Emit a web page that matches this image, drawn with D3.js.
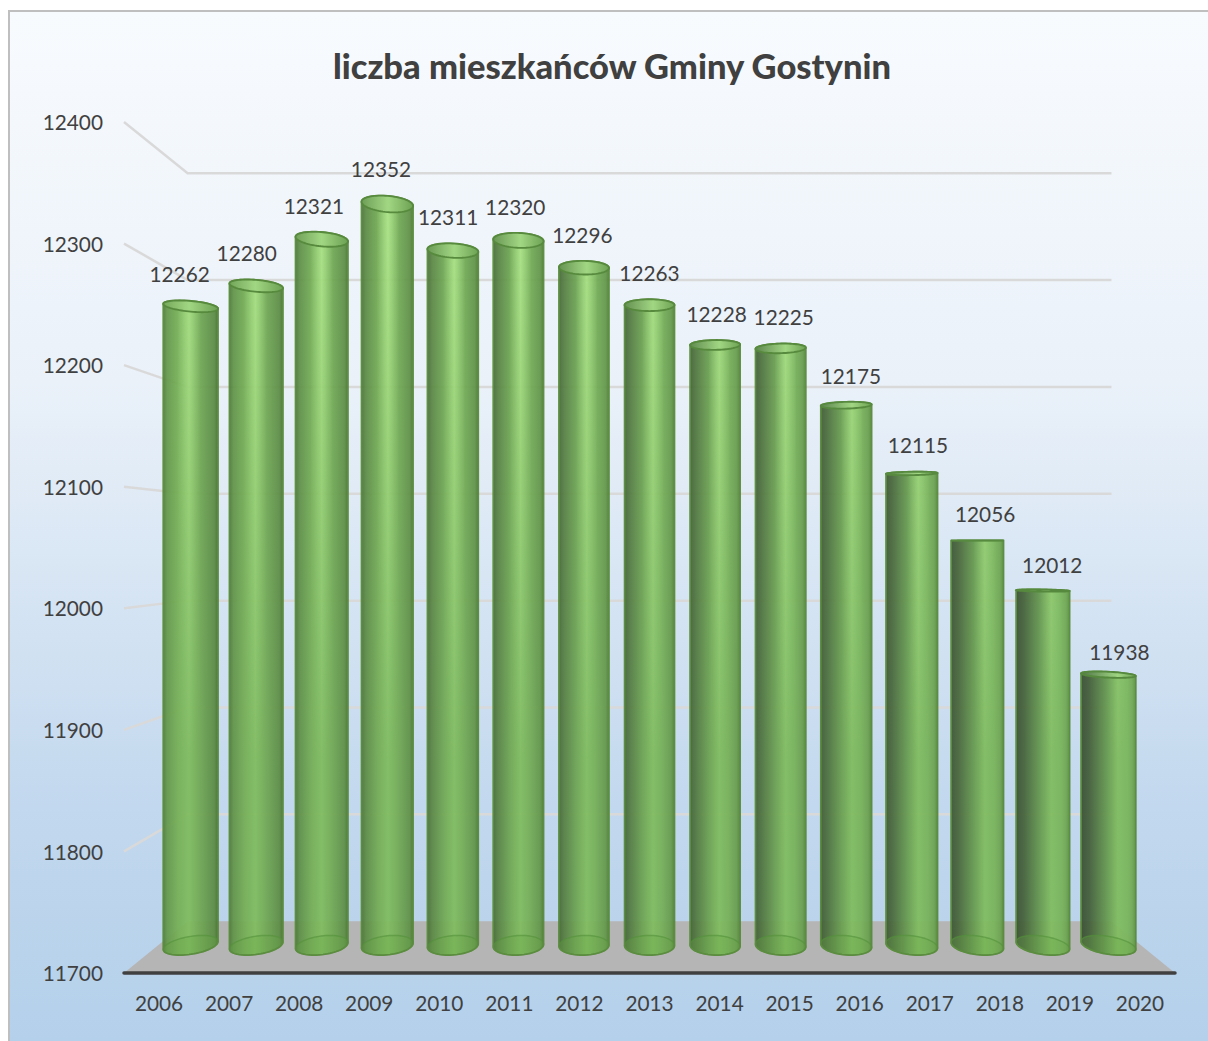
<!DOCTYPE html>
<html>
<head>
<meta charset="utf-8">
<title>liczba mieszkańców Gminy Gostynin</title>
<script src="https://cdn.jsdelivr.net/npm/d3@7"></script>
<style>
  html, body { margin: 0; padding: 0; background: #fff; }
  svg { display: block; }
  text { font-family: Lato, "Open Sans", sans-serif; fill: #404040; }
</style>
</head>
<body>
<div id="chart"></div>
<script>
var years = ["2006","2007","2008","2009","2010","2011","2012","2013","2014","2015","2016","2017","2018","2019","2020"];
var residents = [12262,12280,12321,12352,12311,12320,12296,12263,12228,12225,12175,12115,12056,12012,11938];
var yTicks = [11700,11800,11900,12000,12100,12200,12300,12400];
var chartTitle = "liczba mieszkańców Gminy Gostynin";

var width = 1208, height = 1041;

var svg = d3.select("#chart").append("svg").attr("width", width).attr("height", height);
var defs = svg.append("defs");

// front plane of the 3D box, everything else is pushed back towards the vanishing point
var x = d3.scaleBand().domain(years).range([124, 1175]);
var y = d3.scaleLinear().domain([11700, 12400]).range([973, 122]);
var depth = d3.scaleLinear().domain([0, 1]).range([1, 0.879]);
var vanish = {x: 650, y: 545};

function project(px, py, d) {
    var s = depth(d);
    return [vanish.x + (px - vanish.x) * s, vanish.y + (py - vanish.y) * s];
}

// background
var bg = defs.append("linearGradient").attr("id", "bg").attr("x1", 0).attr("y1", 0).attr("x2", 0).attr("y2", 1);
bg.append("stop").attr("offset", 0).attr("stop-color", "#f8fbfe");
bg.append("stop").attr("offset", 0.35).attr("stop-color", "#eaf1f9");
bg.append("stop").attr("offset", 0.75).attr("stop-color", "#c2d8ee");
bg.append("stop").attr("offset", 1).attr("stop-color", "#b2cfea");

svg.append("rect")
    .attr("x", 9).attr("y", 11).attr("width", width + 20).attr("height", height + 20)
    .attr("fill", "url(#bg)").attr("stroke", "#bfbfbf").attr("stroke-width", 2);

// title
svg.append("text")
    .attr("x", 612).attr("y", 79)
    .attr("text-anchor", "middle")
    .attr("font-size", 34.6).attr("font-weight", 900)
    .attr("textLength", 558).attr("lengthAdjust", "spacingAndGlyphs")
    .text(chartTitle);

// floor
var lineGen = d3.line();
var left = x.range()[0], right = x.range()[1];
svg.append("path")
    .attr("d", lineGen([project(left, y(11700), 0), project(right, y(11700), 0), project(right, y(11700), 1), project(left, y(11700), 1)]) + "Z")
    .attr("fill", "#b5b5b5");

// gridlines, side wall then back wall
svg.append("g").selectAll("path")
    .data(yTicks.filter(function(t) { return t > 11700; }))
    .enter().append("path")
    .attr("d", function(t) {
        return lineGen([project(left, y(t), 0), project(left, y(t), 1), project(right, y(t), 1)]);
    })
    .attr("fill", "none")
    .attr("stroke", "#d9d9d9")
    .attr("stroke-width", 2.5)
    .attr("stroke-linejoin", "round");

// front edge
svg.append("line")
    .attr("x1", left).attr("x2", right)
    .attr("y1", y(11700)).attr("y2", y(11700))
    .attr("stroke", "#404040").attr("stroke-width", 3.5).attr("stroke-linecap", "round");

// cylinders
var barRadius = 26.7, barDepth = 0.536, barDepthRadius = 0.19;

function ring(i, value) {
    var px = x(years[i]) + x.bandwidth() / 2;
    return d3.range(0, 72).map(function(k) {
        var a = k / 72 * 2 * Math.PI;
        return project(px + barRadius * Math.cos(a), y(value), barDepth + barDepthRadius * Math.sin(a));
    });
}

// light sits left of the last bar, so dark side gets wider to the right
years.forEach(function(yr, i) {
    var t = i / (years.length - 1);
    var hi = 0.47 + 0.2 * t;

    var g = defs.append("linearGradient").attr("id", "body" + i).attr("x1", 0).attr("x2", 1).attr("y1", 0).attr("y2", 0);
    var stops = [
        [0, d3.interpolateRgb("#527f3e", "#3a4f33")(t)],
        [0.07 + 0.08 * t, d3.interpolateRgb("#65994b", "#445f3a")(t)],
        [hi - 0.2, d3.interpolateRgb("#76b057", "#66994f")(t)],
        [hi, "#80bd5f"],
        [hi + 0.18, d3.interpolateRgb("#72aa55", "#7ab65c")(t)],
        [0.93, d3.interpolateRgb("#5c8c46", "#72aa55")(t)],
        [1, d3.interpolateRgb("#47722f", "#5d9343")(t)]
    ];
    stops.forEach(function(s) { g.append("stop").attr("offset", s[0]).attr("stop-color", s[1]); });

    var shine = defs.append("linearGradient").attr("id", "shine" + i).attr("x1", 0).attr("x2", 1).attr("y1", 0).attr("y2", 0);
    shine.append("stop").attr("offset", hi - 0.22).attr("stop-color", "#c8ffa0").attr("stop-opacity", 0);
    shine.append("stop").attr("offset", hi).attr("stop-color", "#c8ffa0").attr("stop-opacity", 0.6);
    shine.append("stop").attr("offset", hi + 0.22).attr("stop-color", "#c8ffa0").attr("stop-opacity", 0);

    var lid = defs.append("linearGradient").attr("id", "lid" + i).attr("x1", 0).attr("x2", 1).attr("y1", 0).attr("y2", 0);
    lid.append("stop").attr("offset", 0).attr("stop-color", d3.interpolateRgb("#6fa552", "#4a7040")(t));
    lid.append("stop").attr("offset", hi).attr("stop-color", "#9dd57c");
    lid.append("stop").attr("offset", 1).attr("stop-color", d3.interpolateRgb("#659c4a", "#689f4c")(t));
});

// the shine only shows on the upper part of the picture
var fade = defs.append("linearGradient").attr("id", "fade")
    .attr("gradientUnits", "userSpaceOnUse").attr("x1", 0).attr("x2", 0).attr("y1", 190).attr("y2", 760);
fade.append("stop").attr("offset", 0).attr("stop-color", "#fff");
fade.append("stop").attr("offset", 1).attr("stop-color", "#000");
defs.append("mask").attr("id", "fadeMask")
    .attr("maskUnits", "userSpaceOnUse")
    .attr("x", 0).attr("y", 0).attr("width", width).attr("height", height)
    .append("rect").attr("width", width).attr("height", height).attr("fill", "url(#fade)");

var bars = svg.append("g").selectAll("g")
    .data(residents)
    .enter().append("g")
    .attr("opacity", 0.94);

bars.each(function(v, i) {
    var bar = d3.select(this);
    var top = ring(i, v), bottom = ring(i, 11700);
    var hull = "M" + d3.polygonHull(top.concat(bottom)).join("L") + "Z";
    bar.append("path").attr("d", hull).attr("fill", "url(#body" + i + ")");
    bar.append("path").attr("d", hull).attr("fill", "url(#shine" + i + ")").attr("mask", "url(#fadeMask)");
    bar.append("path").attr("d", lineGen(bottom) + "Z")
        .attr("fill", "#62a53f").attr("fill-opacity", 0.3)
        .attr("stroke", "#4f8f33").attr("stroke-opacity", 0.6).attr("stroke-width", 1.4);
    bar.append("path").attr("d", hull)
        .attr("fill", "none").attr("stroke", "#568a38").attr("stroke-width", 1.7);
    bar.append("path").attr("d", lineGen(top) + "Z")
        .attr("fill", "url(#lid" + i + ")")
        .attr("stroke", "#4f8433").attr("stroke-width", 1.9);
});

// value labels float just in front of the cylinders
svg.append("g").selectAll("text")
    .data(residents)
    .enter().append("text")
    .attr("transform", function(v, i) {
        var p = project(x(years[i]) + x.bandwidth() / 2, y(v), 0.347);
        return "translate(" + p[0] + "," + (p[1] - 25.5) + ")";
    })
    .attr("text-anchor", "middle")
    .attr("dy", "0.35em")
    .attr("font-size", 20.8)
    .text(function(v) { return v; });

// axes
var yAxis = svg.append("g")
    .attr("transform", "translate(103,1)")
    .call(d3.axisLeft(y).tickValues(yTicks).tickSize(0).tickPadding(0).tickFormat(d3.format("d")));
var xAxis = svg.append("g")
    .attr("transform", "translate(0,996)")
    .call(d3.axisBottom(x).tickSize(0).tickPadding(0));

[yAxis, xAxis].forEach(function(a) {
    a.select(".domain").remove();
    a.selectAll("text")
        .attr("font-family", "Lato, 'Open Sans', sans-serif")
        .attr("font-size", 20.8)
        .attr("fill", "#404040");
});
</script>
</body>
</html>
